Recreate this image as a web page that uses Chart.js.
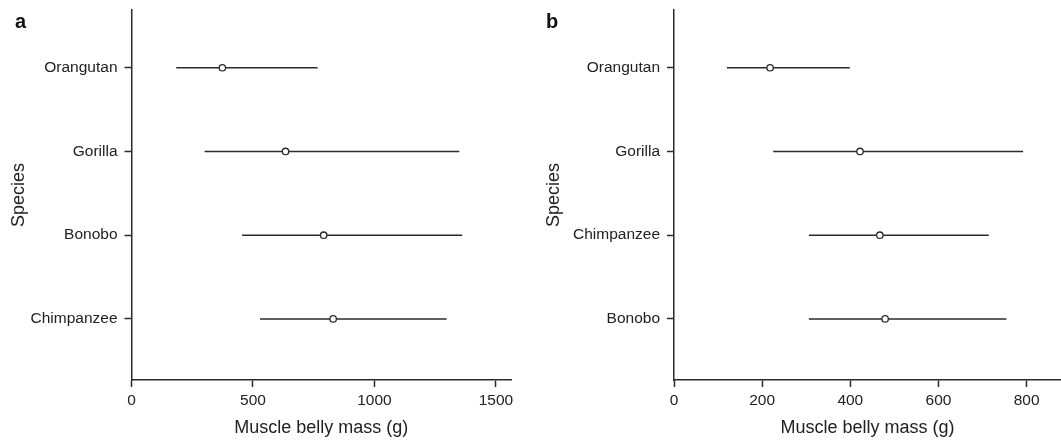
<!DOCTYPE html>
<html>
<head>
<meta charset="utf-8">
<title>Muscle belly mass by species</title>
<script src="https://cdn.jsdelivr.net/npm/chart.js@4/dist/chart.umd.min.js"></script>
<style>
  html, body { margin: 0; padding: 0; background: #fff; }
  .row { display: flex; width: 1061px; height: 442px; }
  canvas { display: block; }
</style>
</head>
<body>
<div class="row">
  <canvas id="panelA" width="530" height="442"></canvas>
  <canvas id="panelB" width="531" height="442"></canvas>
</div>
<script>
// panel a
const speciesA = ['Orangutan', 'Gorilla', 'Bonobo', 'Chimpanzee'];
const meanA = [374, 634, 791, 830];
const lowA = [184, 301, 455, 529];
const highA = [766, 1349, 1361, 1297];
const ticksA = [0, 500, 1000, 1500];

// panel b
const speciesB = ['Orangutan', 'Gorilla', 'Chimpanzee', 'Bonobo'];
const meanB = [218, 422, 467, 479];
const lowB = [120, 225, 306, 306];
const highB = [399, 792, 714, 754];
const ticksB = [0, 200, 400, 600, 800];

const FONT = '"Liberation Sans", Arial, Helvetica, sans-serif';
const INK = '#2b2b2b';

// letter in the top left corner of each panel
const panelLetter = {
  id: 'panelLetter',
  afterDraw(chart, args, opts) {
    const ctx = chart.ctx;
    ctx.save();
    ctx.font = 'bold 20px ' + FONT;
    ctx.fillStyle = '#111';
    ctx.textBaseline = 'alphabetic';
    ctx.fillText(opts.text, opts.x, opts.y);
    ctx.restore();
  }
};

function makePanel(id, cfg) {
  const n = cfg.species.length;
  // top row gets the highest y value
  const rowY = i => n - i;

  const bars = cfg.species.map((s, i) => ({
    label: s,
    data: [{ x: cfg.low[i], y: rowY(i) }, { x: cfg.high[i], y: rowY(i) }],
    showLine: true,
    borderColor: INK,
    borderWidth: 1.5,
    pointRadius: 0,
    order: 1
  }));

  const means = {
    label: 'mean',
    data: cfg.mean.map((m, i) => ({ x: m, y: rowY(i) })),
    showLine: false,
    pointStyle: 'circle',
    pointRadius: 3.2,
    pointBorderWidth: 1.3,
    pointBackgroundColor: '#fff',
    pointBorderColor: INK,
    order: 0
  };

  return new Chart(document.getElementById(id), {
    type: 'scatter',
    data: { datasets: [means, ...bars] },
    plugins: [panelLetter],
    options: {
      responsive: false,
      devicePixelRatio: 1,
      animation: false,
      layout: {
        autoPadding: false,
        padding: { left: 0, top: 10, right: cfg.padRight, bottom: 0 }
      },
      plugins: {
        legend: { display: false },
        tooltip: { enabled: false },
        panelLetter: { text: cfg.letter, x: cfg.letterX, y: 28 }
      },
      scales: {
        x: {
          type: 'linear',
          min: 0,
          max: cfg.xMax,
          afterBuildTicks: scale => { scale.ticks = cfg.ticks.map(v => ({ value: v })); },
          afterFit: scale => {
            scale.height = 62;
            scale.paddingLeft = 0;
            scale.paddingRight = 0;
          },
          border: { display: true, color: INK, width: 1.5 },
          grid: {
            display: true,
            drawOnChartArea: false,
            drawTicks: true,
            tickLength: 7,
            tickColor: INK,
            tickWidth: 1.5
          },
          ticks: {
            autoSkip: false,
            maxRotation: 0,
            padding: 4,
            color: '#222',
            font: { family: FONT, size: 15.5 },
            callback: v => String(v)
          },
          title: {
            display: true,
            text: 'Muscle belly mass (g)',
            color: '#222',
            font: { family: FONT, size: 18 },
            padding: { top: 0, bottom: 3 }
          }
        },
        y: {
          type: 'linear',
          min: 0.27,
          max: n + 0.69,
          afterBuildTicks: scale => { scale.ticks = cfg.species.map((s, i) => ({ value: rowY(i) })); },
          afterFit: scale => {
            scale.width = cfg.yWidth;
            scale.paddingTop = 0;
            scale.paddingBottom = 0;
          },
          border: { display: true, color: INK, width: 1.5 },
          grid: {
            display: true,
            drawOnChartArea: false,
            drawTicks: true,
            tickLength: 7,
            tickColor: INK,
            tickWidth: 1.5
          },
          ticks: {
            autoSkip: false,
            padding: 7,
            color: '#222',
            font: { family: FONT, size: 15.5 },
            callback: v => cfg.species[n - v]
          },
          title: {
            display: true,
            text: 'Species',
            color: '#222',
            font: { family: FONT, size: 18 },
            padding: { top: cfg.yTitlePad, bottom: 0 }
          }
        }
      }
    }
  });
}

makePanel('panelA', {
  letter: 'a', letterX: 15,
  species: speciesA, mean: meanA, low: lowA, high: highA,
  ticks: ticksA, xMax: 1562,
  yWidth: 131.5, padRight: 19, yTitlePad: 8
});

makePanel('panelB', {
  letter: 'b', letterX: 16,
  species: speciesB, mean: meanB, low: lowB, high: highB,
  ticks: ticksB, xMax: 878,
  yWidth: 144, padRight: 0, yTitlePad: 13
});
</script>
</body>
</html>
